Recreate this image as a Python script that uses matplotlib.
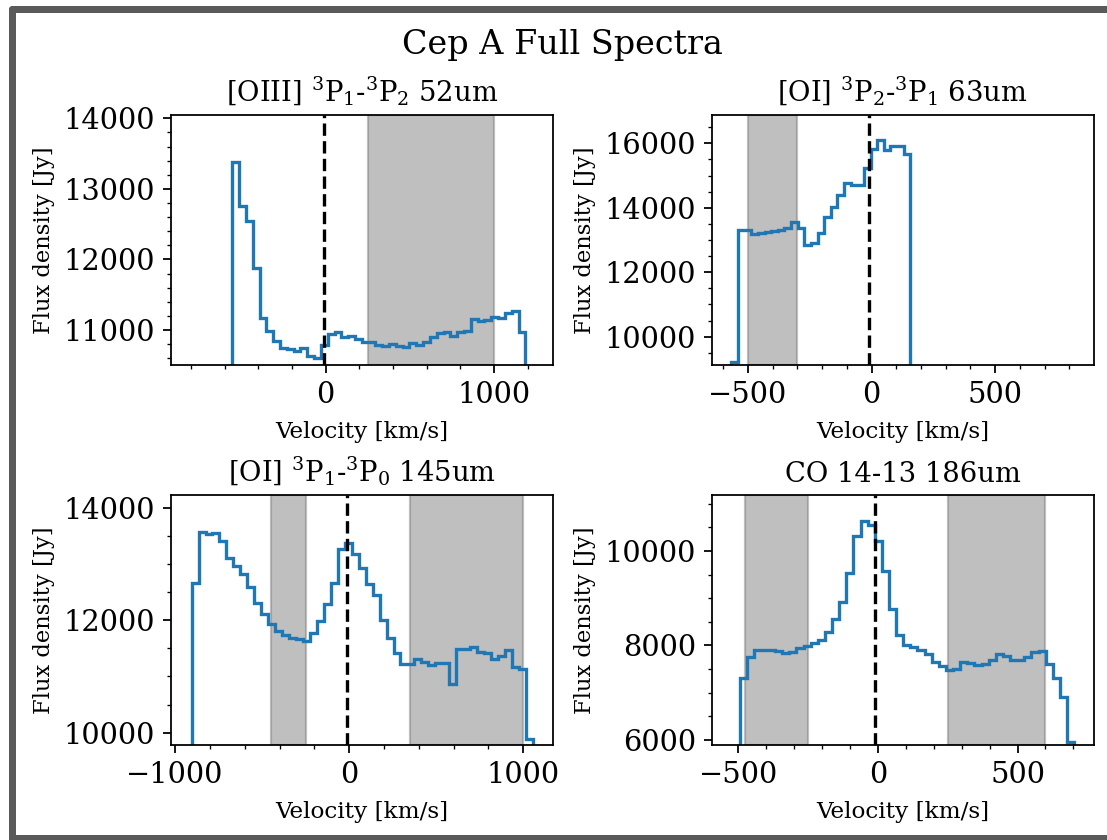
import matplotlib
matplotlib.use("Agg")
import matplotlib.pyplot as plt
from matplotlib.lines import Line2D

plt.rcParams['font.family'] = ['DejaVu Serif']
plt.rcParams['mathtext.fontset'] = 'dejavuserif'
plt.rcParams['xtick.labelsize'] = 13
plt.rcParams['ytick.labelsize'] = 13

# ---------------- data ----------------
suptitle_text = "Cep A Full Spectra"
titles = [
    "[OIII] $^3$P$_1$-$^3$P$_2$ 52um",
    "[OI] $^3$P$_2$-$^3$P$_1$ 63um",
    "[OI] $^3$P$_1$-$^3$P$_0$ 145um",
    "CO 14-13 186um",
]
xlabel = "Velocity [km/s]"
ylabel = "Flux density [Jy]"
v_sys = -10

# [OIII] 52um : channel edges (km/s) and flux (Jy)
edges1 = [-555, -514.5, -474, -433.5, -393, -352.5, -312, -271.5, -231, -190.5,
          -150, -109.5, -69, -28.5, 12, 52.5, 93, 133.5, 174, 214.5, 255, 295.5,
          336, 376.5, 417, 457.5, 498, 538.5, 579, 619.5, 660, 700.5, 741, 781.5,
          822, 862.5, 903, 943.5, 984, 1024.5, 1065, 1105.5, 1146, 1186.5]
flux1 = [13384, 12756, 12544, 11882, 11174, 10986, 10844, 10750, 10727, 10703,
         10740, 10632, 10599, 10788, 10943, 10967, 10905, 10915, 10877, 10830,
         10826, 10788, 10773, 10802, 10773, 10764, 10811, 10788, 10835, 10896,
         10953, 10976, 10915, 10976, 10991, 11151, 11127, 11142, 11180, 11165,
         11236, 11269, 10967]
spans1 = [(250, 1000)]

# [OI] 63um
edges2 = [-566.8, -540, -513.2, -486.4, -459.6, -432.8, -406, -379.2, -352.4,
          -325.6, -298.8, -272, -245.2, -218.4, -191.6, -164.8, -138, -111.2,
          -84.4, -57.6, -30.8, -4, 22.8, 49.6, 76.4, 103.2, 130, 156.8]
flux2 = [9217, 13307, 13300, 13174, 13205, 13236, 13267, 13307, 13379, 13546,
         13379, 12842, 12894, 13225, 13702, 14012, 14394, 14777, 14705, 14705,
         15224, 15814, 16103, 15792, 15916, 15916, 15668]
spans2 = [(-500, -300)]

# [OI] 145um
edges3 = [-905, -865, -825, -785, -745, -705, -665, -625, -585, -545, -505, -465,
          -425, -385, -345, -305, -265, -225, -185, -145, -105, -65, -25, 15, 55,
          95, 135, 175, 215, 255, 295, 335, 375, 415, 455, 495, 535, 575, 615,
          655, 695, 735, 775, 815, 855, 895, 935, 975, 1015, 1055]
flux3 = [12670, 13577, 13529, 13559, 13410, 13102, 12966, 12830, 12593, 12314,
         12107, 11929, 11810, 11739, 11692, 11662, 11632, 11781, 11988, 12296,
         12670, 13262, 13381, 13173, 12924, 12652, 12444, 12000, 11680, 11425,
         11218, 11218, 11307, 11259, 11200, 11236, 11247, 10874, 11484, 11496,
         11526, 11443, 11425, 11307, 11366, 11467, 11159, 11129, 9884]
spans3 = [(-450, -250), (350, 1000)]

# CO 14-13 186um
edges4 = [-496, -470.5, -445, -419.5, -394, -368.5, -343, -317.5, -292, -266.5,
          -241, -215.5, -190, -164.5, -139, -113.5, -88, -62.5, -37, -11.5, 14,
          39.5, 65, 90.5, 116, 141.5, 167, 192.5, 218, 243.5, 269, 294.5, 320,
          345.5, 371, 396.5, 422, 447.5, 473, 498.5, 524, 549.5, 575, 600.5,
          626, 651.5, 677, 702.5]
flux4 = [7316, 7767, 7894, 7894, 7894, 7890, 7845, 7870, 7944, 7979,
         8049, 8106, 8296, 8564, 8917, 9538, 10313, 10645, 10540, 10222,
         9587, 8762, 8212, 8000, 7965, 7908, 7810, 7647, 7556, 7485,
         7506, 7647, 7626, 7591, 7612, 7683, 7810, 7788, 7697, 7683,
         7753, 7859, 7880, 7612, 7316, 6906, 5953]
spans4 = [(-475, -250), (250, 600)]

xlims = [(-921, 1351), (-647, 898), (-1025, 1171), (-596, 772)]
ylims = [(10504, 14047), (9121, 16879), (9781, 14226), (5894, 11185)]

# ---------------- figure ----------------
DPI = 160
W, H = 1107, 840
fig = plt.figure(figsize=(W / DPI, H / DPI), dpi=DPI)
fig.patch.set_facecolor('white')

positions = [
    [170.7 / W, (H - 365) / H, 382.3 / W, 250 / H],
    [711.6 / W, (H - 365) / H, 381.9 / W, 250 / H],
    [170.7 / W, (H - 745) / H, 382.3 / W, 250 / H],
    [711.6 / W, (H - 745) / H, 381.9 / W, 250 / H],
]

datasets = [(edges1, flux1, spans1), (edges2, flux2, spans2),
            (edges3, flux3, spans3), (edges4, flux4, spans4)]

for i, (edges, flux, spans) in enumerate(datasets):
    ax = fig.add_axes(positions[i])
    for a, b in spans:
        ax.axvspan(a, b, color='gray', alpha=0.5)
    ax.stairs(flux, edges, baseline=0, color='#1f77b4', lw=1.5)
    ax.axvline(v_sys, color='k', ls='--', lw=1.5)
    ax.set_xlim(*xlims[i])
    ax.set_ylim(*ylims[i])
    ax.minorticks_on()
    ax.set_title(titles[i], fontsize=12.3)
    ax.set_xlabel(xlabel, fontsize=10.4, labelpad=5.5)
    ax.set_ylabel(ylabel, fontsize=10.2)

fig.suptitle(suptitle_text, fontsize=15, x=562.5 / W, y=0.966, va='top')

# window-like frame (top, left and bottom edges) around the figure
frame_color = '#5a5a5a'
frame_lw = 7 * 72 / DPI
fx0 = 11.5 / W
fy_top = 1 - 8.5 / H
fy_bot = 1 - 837.5 / H
for xs, ys in [([fx0, 1.02], [fy_top, fy_top]),
               ([fx0, fx0], [fy_top, fy_bot]),
               ([fx0, 1.02], [fy_bot, fy_bot])]:
    fig.add_artist(Line2D(xs, ys, transform=fig.transFigure, color=frame_color,
                          lw=frame_lw, solid_capstyle='round',
                          solid_joinstyle='round'))

fig.savefig('out.png', dpi=DPI)
